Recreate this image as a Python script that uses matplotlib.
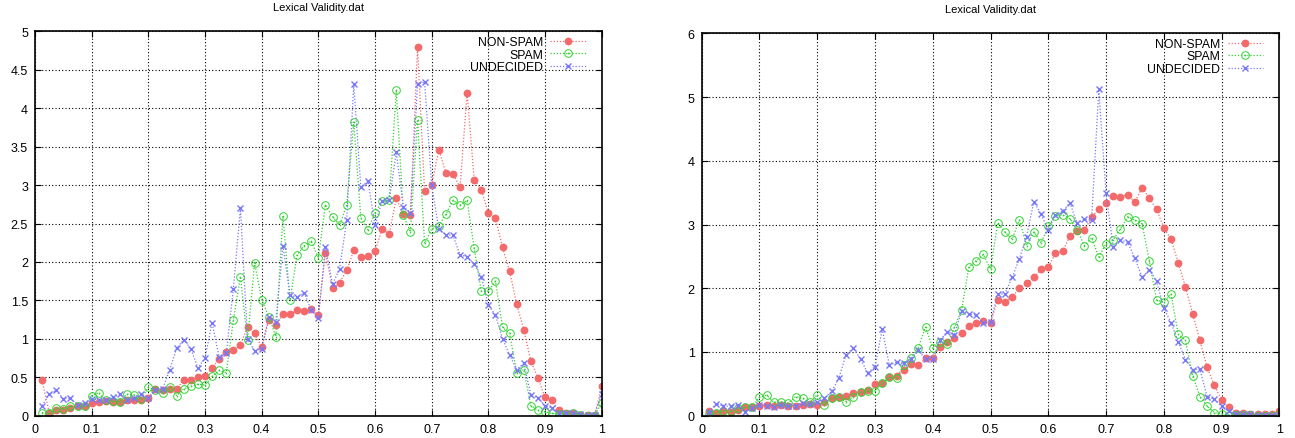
import numpy as np
import matplotlib
matplotlib.use("Agg")
from matplotlib import pyplot as plt
from matplotlib.ticker import FuncFormatter, MultipleLocator

plt.rcParams['font.family'] = ['Liberation Sans', 'DejaVu Sans']

# x positions: 80 bins on [0, 1]
x = np.arange(1, 81) / 80.0

# Left panel
nonspam_l = [0.46, 0.04, 0.07, 0.07, 0.10, 0.12, 0.13, 0.16, 0.18, 0.19,
             0.18, 0.18, 0.20, 0.21, 0.21, 0.23, 0.35, 0.34, 0.35, 0.35,
             0.46, 0.46, 0.50, 0.52, 0.62, 0.74, 0.83, 0.85, 0.92, 1.16,
             1.07, 0.89, 1.24, 1.18, 1.32, 1.32, 1.37, 1.36, 1.39, 1.31,
             2.12, 1.66, 1.73, 1.89, 2.15, 2.06, 2.08, 2.14, 2.43, 2.36,
             2.83, 2.62, 2.61, 4.79, 2.92, 3.00, 3.46, 3.16, 3.15, 2.97,
             4.20, 3.07, 2.94, 2.64, 2.57, 2.19, 1.88, 1.45, 1.12, 0.71,
             0.49, 0.24, 0.20, 0.07, 0.04, 0.03, 0.01, 0.01, 0.01, 0.38]
spam_l = [0.04, 0.03, 0.10, 0.09, 0.12, 0.13, 0.13, 0.26, 0.30, 0.20,
          0.19, 0.18, 0.28, 0.27, 0.22, 0.37, 0.33, 0.30, 0.37, 0.26,
          0.35, 0.38, 0.41, 0.40, 0.51, 0.59, 0.56, 1.24, 1.81, 0.98,
          1.99, 1.51, 1.29, 1.03, 2.60, 1.50, 2.09, 2.21, 2.27, 2.05,
          2.74, 2.59, 2.48, 2.74, 3.82, 2.57, 2.42, 2.64, 2.79, 2.80,
          4.23, 2.61, 2.39, 3.85, 2.24, 2.43, 2.47, 2.62, 2.80, 2.74,
          2.80, 2.18, 1.62, 1.62, 1.75, 1.15, 1.07, 0.56, 0.60, 0.13,
          0.07, 0.05, 0.03, 0.02, 0.02, 0.04, 0.01, 0.00, 0.00, 0.17]
undec_l = [0.13, 0.28, 0.33, 0.22, 0.23, 0.14, 0.16, 0.22, 0.20, 0.20,
           0.24, 0.28, 0.20, 0.23, 0.28, 0.23, 0.33, 0.35, 0.59, 0.88,
           0.99, 0.87, 0.62, 0.75, 1.21, 0.76, 0.81, 1.65, 2.70, 1.00,
           0.84, 0.87, 1.29, 1.22, 2.21, 1.57, 1.54, 1.60, 1.37, 1.27,
           2.20, 1.71, 1.91, 2.54, 4.31, 2.97, 3.05, 2.48, 2.79, 2.80,
           3.43, 2.72, 2.64, 4.31, 4.34, 3.00, 2.43, 2.35, 2.35, 2.09,
           2.07, 1.97, 1.81, 1.44, 1.31, 1.00, 0.79, 0.60, 0.68, 0.27,
           0.23, 0.13, 0.10, 0.04, 0.03, 0.04, 0.02, 0.01, 0.01, 0.28]

# Right panel
nonspam_r = [0.08, 0.04, 0.07, 0.06, 0.09, 0.13, 0.14, 0.16, 0.17, 0.16,
             0.17, 0.16, 0.16, 0.17, 0.19, 0.17, 0.21, 0.27, 0.30, 0.31,
             0.35, 0.37, 0.40, 0.49, 0.51, 0.60, 0.62, 0.72, 0.81, 0.79,
             0.90, 0.91, 1.08, 1.15, 1.22, 1.30, 1.41, 1.45, 1.49, 1.46,
             1.82, 1.79, 1.86, 2.00, 2.08, 2.17, 2.30, 2.33, 2.55, 2.58,
             2.82, 2.90, 2.91, 3.11, 3.25, 3.33, 3.45, 3.43, 3.47, 3.35,
             3.58, 3.41, 3.24, 2.95, 2.77, 2.40, 2.02, 1.60, 1.18, 0.76,
             0.48, 0.24, 0.13, 0.05, 0.04, 0.03, 0.02, 0.02, 0.02, 0.07]
spam_r = [0.02, 0.04, 0.08, 0.07, 0.12, 0.13, 0.14, 0.29, 0.32, 0.21,
          0.22, 0.20, 0.30, 0.27, 0.21, 0.33, 0.17, 0.28, 0.30, 0.22,
          0.30, 0.37, 0.39, 0.39, 0.51, 0.60, 0.59, 0.80, 0.91, 1.07,
          1.39, 1.06, 1.15, 1.12, 1.39, 1.66, 2.33, 2.43, 2.53, 2.30,
          3.02, 2.88, 2.77, 3.07, 2.67, 2.88, 2.71, 2.97, 3.14, 3.15,
          3.09, 2.91, 2.67, 2.79, 2.49, 2.70, 2.76, 2.93, 3.12, 3.07,
          3.01, 2.43, 1.81, 1.79, 1.91, 1.28, 1.18, 0.63, 0.30, 0.15,
          0.05, 0.03, 0.01, 0.01, 0.01, 0.01, 0.00, 0.00, 0.00, 0.02]
undec_r = [0.06, 0.19, 0.15, 0.15, 0.17, 0.06, 0.12, 0.17, 0.16, 0.14,
           0.17, 0.15, 0.16, 0.20, 0.18, 0.21, 0.27, 0.38, 0.59, 0.96,
           1.06, 0.89, 0.67, 0.77, 1.36, 0.79, 0.84, 0.82, 0.89, 1.03,
           0.89, 0.89, 1.18, 1.32, 1.27, 1.65, 1.60, 1.58, 1.45, 1.47,
           1.91, 1.91, 2.17, 2.46, 2.81, 3.36, 3.16, 2.91, 3.15, 3.21,
           3.34, 3.02, 3.08, 3.07, 5.12, 3.49, 2.64, 2.76, 2.72, 2.47,
           2.17, 2.29, 2.11, 1.69, 1.46, 1.16, 0.88, 0.72, 0.73, 0.30,
           0.26, 0.15, 0.07, 0.03, 0.02, 0.02, 0.01, 0.01, 0.01, 0.01]

labels = ["NON-SPAM", "SPAM", "UNDECIDED"]
title = "Lexical Validity.dat"

red = "#f46a6a"
green = "#2fd12f"
blue = "#7878f8"

fig = plt.figure(figsize=(12.95, 4.39), dpi=100)
ax1 = fig.add_axes([35 / 1295, 22.3 / 439, 566.7 / 1295, 384.4 / 439])
ax2 = fig.add_axes([701.7 / 1295, 22.3 / 439, 577.6 / 1295, 382.4 / 439])

fmt = FuncFormatter(lambda v, p: "%g" % v)


def draw(ax, ns, sp, un, ymax, ystep):
    ls = (0, (1, 1.5))
    ax.plot(x, ns, color=red, ls=ls, lw=0.9, marker='o', ms=4.6,
            mec=red, mfc=red, label=labels[0])
    ax.plot(x, sp, color=green, ls=ls, lw=0.9, marker=r'$\odot$', ms=6.2,
            mec=green, mfc=green, mew=0, label=labels[1])
    ax.plot(x, un, color=blue, ls=ls, lw=0.9, marker='x', ms=4.5,
            mew=1.0, label=labels[2])
    ax.set_xlim(0, 1)
    ax.set_ylim(0, ymax)
    ax.xaxis.set_major_locator(MultipleLocator(0.1))
    ax.yaxis.set_major_locator(MultipleLocator(ystep))
    ax.xaxis.set_major_formatter(fmt)
    ax.yaxis.set_major_formatter(fmt)
    ax.grid(True, color="black", ls=(0, (1, 2)), lw=0.8)
    ax.tick_params(direction='in', length=4, width=0.8, labelsize=9,
                   top=True, right=True, pad=5)
    for s in ax.spines.values():
        s.set_linewidth(1.2)
    ax.set_title(title, fontsize=8, pad=15)
    ax.legend(loc="upper right", bbox_to_anchor=(0.972, 0.988),
              frameon=False, markerfirst=False, fontsize=8.8,
              handlelength=2.9, handletextpad=0.6, labelspacing=0.05,
              borderpad=0, borderaxespad=0, numpoints=1)


draw(ax1, nonspam_l, spam_l, undec_l, 5, 0.5)
draw(ax2, nonspam_r, spam_r, undec_r, 6, 1)

plt.savefig("out.png", dpi=100)
